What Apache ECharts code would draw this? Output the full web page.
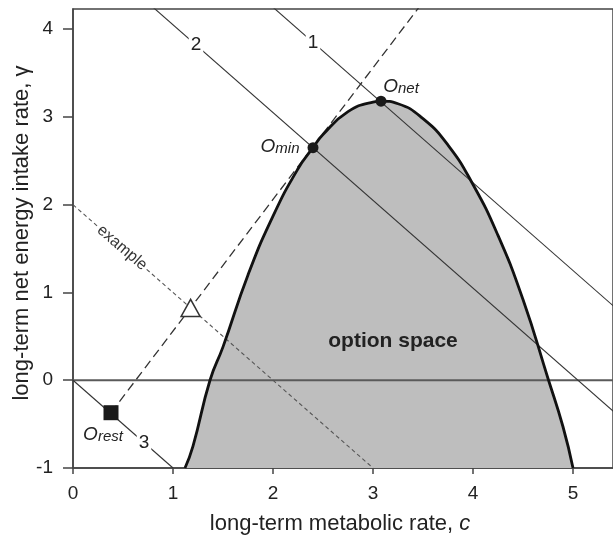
<!DOCTYPE html>
<html>
<head>
<meta charset="utf-8">
<script src="https://cdn.jsdelivr.net/npm/echarts@6/dist/echarts.min.js"></script>
<style>
  html, body { margin: 0; padding: 0; background: #fff; }
  #chart { width: 613px; height: 539px; }
</style>
</head>
<body>
<div id="chart"></div>
<script>
// Axis ticks
const xTicks = [0, 1, 2, 3, 4, 5];
const yTicks = [-1, 0, 1, 2, 3, 4];
const xRange = [0, 5.4];
const yRange = [-1, 4.23];

// Boundary of the option space (metabolic rate c, net intake rate gamma)
const boundaryC = [1.12, 1.2, 1.37, 1.5, 1.75, 2.0, 2.25, 2.4, 2.5, 2.75, 3.0, 3.08, 3.25, 3.5, 3.75, 4.0, 4.25, 4.5, 4.75, 4.9, 5.0];
const boundaryG = [-1.0, -0.75, 0.0, 0.38, 1.2, 1.87, 2.41, 2.65, 2.8, 3.06, 3.17, 3.18, 3.15, 2.98, 2.68, 2.23, 1.65, 0.92, 0.02, -0.53, -1.0];

// Iso-lines (end points in data units)
const iso1 = [[1.9, 4.35], [5.6, 0.65]];
const iso2 = [[0.7, 4.35], [5.6, -0.55]];
const iso3 = [[0, 0], [1, -1]];
const exampleLine = [[0, 2], [3, -1]];
const tangentLine = [[0.38, -0.37], [3.48, 4.28]];
const zeroLine = [[0, 0], [5.6, 0]];

// Named points
const oRest = [0.38, -0.37];
const oMin = [2.4, 2.65];
const oNet = [3.08, 3.18];
const exampleMark = [1.176, 0.824];

// Line number labels
const isoLabels = [
  { name: '1', value: [2.40, 3.85] },
  { name: '2', value: [1.23, 3.82] },
  { name: '3', value: [0.71, -0.71] }
];
const exampleLabelPos = [0.49, 1.51];
const optionSpacePos = [3.2, 0.45];

const FONT = "'Liberation Sans', Arial, sans-serif";
const INK = '#222';

const chart = echarts.init(document.getElementById('chart'), null, { renderer: 'canvas' });

function seg(points, color, width, type, z) {
  return {
    type: 'line', data: points, symbol: 'none', silent: true, animation: false,
    lineStyle: { color: color, width: width, type: type || 'solid' }, z: z || 2
  };
}

const boundary = boundaryC.map((c, i) => [c, boundaryG[i]]);

const subLabel = (main, sub) => `{o|${main}}{s|${sub}}`;
const subRich = {
  o: { fontFamily: FONT, fontSize: 19, fontStyle: 'italic', color: INK, lineHeight: 22, verticalAlign: 'bottom' },
  s: { fontFamily: FONT, fontSize: 15, fontStyle: 'italic', color: INK, lineHeight: 14, verticalAlign: 'bottom' }
};
const hidden = { color: 'rgba(0,0,0,0)', opacity: 1 };

chart.setOption({
  animation: false,
  backgroundColor: '#fff',
  grid: {
    left: 73, top: 9, width: 553, height: 459,
    show: true, borderColor: '#444', borderWidth: 1.5, backgroundColor: 'transparent'
  },
  xAxis: {
    type: 'value', min: xRange[0], max: xRange[1],
    splitLine: { show: false },
    axisLine: { show: true, onZero: false, lineStyle: { color: '#444', width: 1.5 } },
    axisTick: { show: true, length: 6, customValues: xTicks, lineStyle: { color: '#444', width: 1.5 } },
    axisLabel: { customValues: xTicks, fontFamily: FONT, fontSize: 19, color: INK, margin: 16 }
  },
  yAxis: {
    type: 'value', min: yRange[0], max: yRange[1],
    splitLine: { show: false },
    axisLine: { show: true, onZero: false, lineStyle: { color: '#444', width: 1.5 } },
    axisTick: { show: true, length: 10, customValues: yTicks, lineStyle: { color: '#444', width: 1.5 } },
    axisLabel: { customValues: yTicks, fontFamily: FONT, fontSize: 19, color: INK, margin: 20 }
  },
  graphic: [
    {
      type: 'text', x: 340, y: 524,
      style: {
        text: '{a|long-term metabolic rate, }{b|c}',
        align: 'center', verticalAlign: 'middle',
        rich: {
          a: { fontFamily: FONT, fontSize: 22, fill: INK },
          b: { fontFamily: FONT, fontSize: 22, fill: INK, fontStyle: 'italic' }
        }
      }
    },
    {
      type: 'text', x: 22, y: 233, rotation: Math.PI / 2,
      style: {
        text: 'long-term net energy intake rate, γ',
        align: 'center', verticalAlign: 'middle',
        fontFamily: FONT, fontSize: 22, fill: INK
      }
    }
  ],
  series: [
    // shaded option space
    {
      type: 'line', data: boundary, symbol: 'none', silent: true, smooth: 0.5,
      lineStyle: { width: 0 }, areaStyle: { color: '#bebebe', origin: 'start', opacity: 1 }, z: 1
    },
    seg(zeroLine, '#5a5a5a', 2),
    seg(iso1, '#333', 1.1),
    seg(iso2, '#333', 1.1),
    seg(iso3, '#333', 1.1),
    seg(exampleLine, '#555', 1.1, [4, 3]),
    seg(tangentLine, '#333', 1.3, [9, 5]),
    // boundary of the option space
    {
      type: 'line', data: boundary, symbol: 'none', silent: true, smooth: 0.5,
      lineStyle: { color: '#111', width: 2.8 }, z: 3
    },
    // iso-line numbers
    {
      type: 'scatter', data: isoLabels, symbolSize: 1, itemStyle: hidden, z: 4,
      label: {
        show: true, position: 'inside', formatter: '{b}', fontFamily: FONT, fontSize: 19, color: INK,
        backgroundColor: '#fff', padding: [1, 2]
      }
    },
    // "example" label along the dotted line
    {
      type: 'scatter', data: [exampleLabelPos], symbolSize: 1, itemStyle: hidden, z: 4,
      label: {
        show: true, position: 'inside', formatter: 'example', rotate: -40.6,
        fontFamily: FONT, fontSize: 16, color: '#333', backgroundColor: '#fff', padding: [0, 2]
      }
    },
    // option space title
    {
      type: 'scatter', data: [optionSpacePos], symbolSize: 1, itemStyle: hidden, z: 4,
      label: {
        show: true, position: 'inside', formatter: 'option space',
        fontFamily: FONT, fontSize: 21, fontWeight: 'bold', color: INK
      }
    },
    // example intersection
    {
      type: 'scatter', data: [exampleMark], symbol: 'triangle', symbolSize: [19, 17], z: 5,
      itemStyle: { color: '#fff', borderColor: '#333', borderWidth: 1.5, opacity: 1 }
    },
    // O_rest
    {
      type: 'scatter', data: [oRest], symbol: 'rect', symbolSize: 15, z: 5,
      itemStyle: { color: '#1a1a1a', opacity: 1 },
      label: { show: true, position: 'inside', offset: [-8, 21], formatter: subLabel('O', 'rest'), rich: subRich }
    },
    // O_min
    {
      type: 'scatter', data: [oMin], symbol: 'circle', symbolSize: 11, z: 5,
      itemStyle: { color: '#1a1a1a', opacity: 1 },
      label: { show: true, position: 'inside', offset: [-33, -2], formatter: subLabel('O', 'min'), rich: subRich }
    },
    // O_net
    {
      type: 'scatter', data: [oNet], symbol: 'circle', symbolSize: 11, z: 5,
      itemStyle: { color: '#1a1a1a', opacity: 1 },
      label: { show: true, position: 'inside', offset: [20, -16], formatter: subLabel('O', 'net'), rich: subRich }
    }
  ]
});
</script>
</body>
</html>
